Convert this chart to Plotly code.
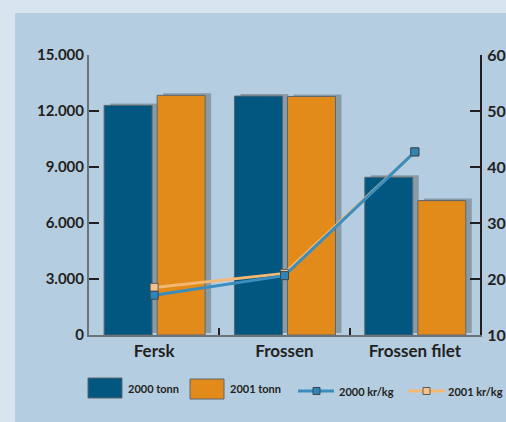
import plotly.graph_objects as go

categories = ["Fersk", "Frossen", "Frossen filet"]
tonn_2000 = [12300, 12800, 8450]
tonn_2001 = [12840, 12780, 7200]
krkg_2000 = [17.1, 20.6, 42.7]
krkg_2001 = [18.5, 21.0, 42.7]
left_ticks = [0, 3000, 6000, 9000, 12000, 15000]
left_ticktext = ["0", "3.000", "6.000", "9.000", "12.000", "15.000"]
legend_names = ["2000 tonn", "2001 tonn", "2000 kr/kg", "2001 kr/kg"]

BLUE = "#01577f"
ORANGE = "#e38b1a"
LBLUE = "#3a8dbd"
LORANGE = "#f3b874"
SHADOW = "#8a9ba8"
EDGE = "#5b6570"
INK = "#231f20"
FONT = "Lato"

# plot area in pixels
L, R, T, B = 89, 480, 55, 335
W, H = 506, 422


def fx(p):
    return (p - L) / (R - L)


def fy(p):
    return (B - p) / (B - T)


bw = 0.368
off_a = -0.384
off_b = 0.023
# shadow offset: 6px right, 2px up
sx = 6 / ((R - L) / 3)
sy = 2 / (B - T) * 15000

fig = go.Figure()

# shadows on the base (shifted) axes
for vals, off in [(tonn_2000, off_a), (tonn_2001, off_b)]:
    fig.add_trace(go.Bar(x=categories, y=vals, width=bw, offset=off,
                         marker=dict(color=SHADOW, line=dict(width=0)),
                         xaxis="x", yaxis="y", showlegend=False, hoverinfo="skip"))

# real bars
fig.add_trace(go.Bar(x=categories, y=tonn_2000, width=bw, offset=off_a, name=legend_names[0],
                     marker=dict(color=BLUE, line=dict(color=EDGE, width=1)),
                     xaxis="x2", yaxis="y2", showlegend=False))
fig.add_trace(go.Bar(x=categories, y=tonn_2001, width=bw, offset=off_b, name=legend_names[1],
                     marker=dict(color=ORANGE, line=dict(color=EDGE, width=1)),
                     xaxis="x2", yaxis="y2", showlegend=False))

# price lines
fig.add_trace(go.Scatter(x=categories, y=krkg_2001, mode="lines+markers", name=legend_names[3],
                         line=dict(color=LORANGE, width=3),
                         marker=dict(symbol="square", size=8, color="#f6c28c",
                                     line=dict(color="#5a5a5a", width=1)),
                         xaxis="x2", yaxis="y3", showlegend=False))
fig.add_trace(go.Scatter(x=categories, y=krkg_2000, mode="lines+markers", name=legend_names[2],
                         line=dict(color=LBLUE, width=3),
                         marker=dict(symbol="square", size=8, color="#2f86b6",
                                     line=dict(color="#3b4650", width=1)),
                         xaxis="x2", yaxis="y3", showlegend=False))

shapes = [
    # inner panel
    dict(type="rect", xref="paper", yref="paper", x0=fx(15), x1=fx(W + 5), y0=fy(H + 5), y1=fy(13),
         fillcolor="#b5cde0", line=dict(width=0), layer="below"),
    # legend swatches
    dict(type="rect", xref="paper", yref="paper", x0=fx(88), x1=fx(122), y0=fy(398), y1=fy(378),
         fillcolor=BLUE, line=dict(color=EDGE, width=1)),
    dict(type="rect", xref="paper", yref="paper", x0=fx(190), x1=fx(224), y0=fy(399), y1=fy(379),
         fillcolor=ORANGE, line=dict(color=EDGE, width=1)),
    dict(type="line", xref="paper", yref="paper", x0=fx(298), x1=fx(334), y0=fy(391), y1=fy(391),
         line=dict(color=LBLUE, width=3)),
    dict(type="rect", xref="paper", yref="paper", x0=fx(313), x1=fx(320), y0=fy(394.5), y1=fy(387.5),
         fillcolor="#2f86b6", line=dict(color="#3b4650", width=1)),
    dict(type="line", xref="paper", yref="paper", x0=fx(408), x1=fx(445), y0=fy(391), y1=fy(391),
         line=dict(color=LORANGE, width=3)),
    dict(type="rect", xref="paper", yref="paper", x0=fx(423), x1=fx(430), y0=fy(394.5), y1=fy(387.5),
         fillcolor="#f6c28c", line=dict(color="#5a5a5a", width=1)),
]

lfont = dict(family=FONT, size=11, color=INK, weight="bold")
annotations = [
    dict(x=fx(126), y=fy(388), text=legend_names[0]),
    dict(x=fx(228), y=fy(388), text=legend_names[1]),
    dict(x=fx(337), y=fy(391), text=legend_names[2]),
    dict(x=fx(446), y=fy(391), text=legend_names[3]),
]
for a in annotations:
    a.update(xref="paper", yref="paper", xanchor="left", yanchor="middle", showarrow=False, font=lfont)

fig.update_layout(
    width=W, height=H,
    margin=dict(l=L, r=W - R, t=T, b=H - B, autoexpand=False),
    paper_bgcolor="#d8e5ee",
    plot_bgcolor="rgba(0,0,0,0)",
    barmode="overlay",
    showlegend=False,
    shapes=shapes,
    annotations=annotations,
    xaxis=dict(type="category", range=[-0.5 - sx, 2.5 - sx], visible=False, fixedrange=True,
               automargin=False),
    yaxis=dict(range=[-sy, 15000 - sy], visible=False, fixedrange=True, automargin=False),
    xaxis2=dict(type="category", overlaying="x", anchor="y2", side="bottom", range=[-0.5, 2.5],
                showline=True, linecolor="#6b737b", linewidth=2,
                tickson="boundaries", ticks="inside", ticklen=7, tickwidth=2, tickcolor=INK,
                tickfont=dict(family=FONT, size=17, color=INK, weight="bold"),
                showgrid=False, zeroline=False, automargin=False),
    yaxis2=dict(overlaying="y", anchor="x2", side="left", range=[0, 15000],
                tickvals=left_ticks, ticktext=left_ticktext,
                showline=True, linecolor="#6b737b", linewidth=2,
                ticks="inside", ticklen=10, tickwidth=2, tickcolor=INK,
                tickfont=dict(family=FONT, size=15, color=INK, weight="bold"),
                showgrid=False, zeroline=False, automargin=False),
    yaxis3=dict(overlaying="y", anchor="x2", side="right", range=[10, 60], dtick=10,
                showline=True, linecolor=INK, linewidth=2,
                ticks="inside", ticklen=10, tickwidth=2, tickcolor=INK, ticklabelstandoff=2,
                tickfont=dict(family=FONT, size=16, color=INK, weight="bold"),
                showgrid=False, zeroline=False, automargin=False),
)

# drop the page's default body margin so the figure sits at the window's corner
fig.write_html("out.html", config={"displayModeBar": False},
               post_script="document.body.style.margin='0';document.body.style.overflow='hidden';")
